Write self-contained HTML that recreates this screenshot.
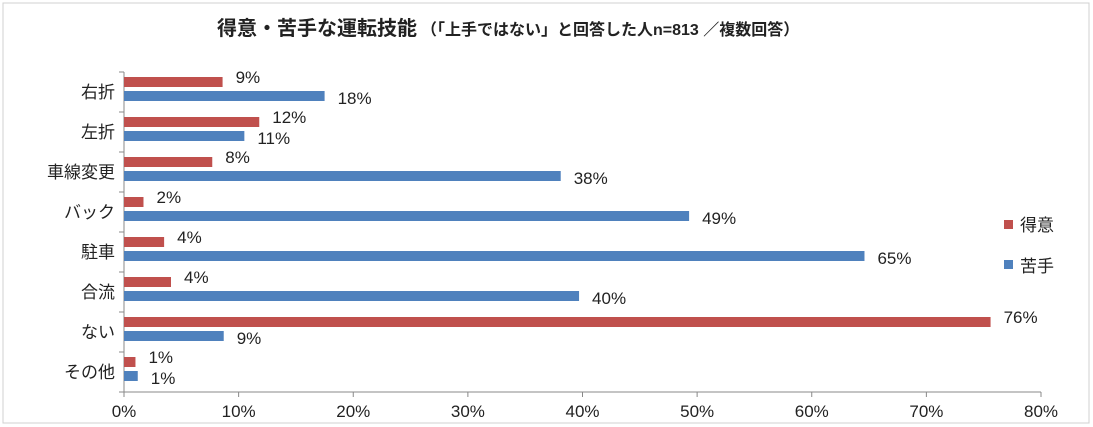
<!DOCTYPE html>
<html><head><meta charset="utf-8"><style>
body{margin:0;background:#fff;}
svg{display:block;font-family:"Liberation Sans","Noto Sans CJK JP",sans-serif;}
</style></head><body>
<svg id="chart" width="1093" height="427">
<rect x="3" y="3" width="1086" height="420" fill="#fff" stroke="#d0d0d0"/>
<text x="217" y="35" font-size="20" font-weight="bold" fill="#222">得意・苦手な運転技能<tspan font-size="16" dx="4">（「上手ではない」と回答した人n=813 ／複数回答）</tspan></text>
<g id="grid"></g><g id="bars"></g><g id="labels"></g>
<rect x="1004" y="220" width="9" height="9" fill="#c0504d"/>
<text x="1020" y="231" font-size="17" fill="#222">得意</text>
<rect x="1004" y="260" width="9" height="9" fill="#4f81bd"/>
<text x="1020" y="272" font-size="17" fill="#222">苦手</text>
</svg>
<script>
const categories=["右折","左折","車線変更","バック","駐車","合流","ない","その他"];
const tokuiValues=[8.6,11.8,7.7,1.7,3.5,4.1,75.6,1.0];
const nigateValues=[17.5,10.5,38.1,49.3,64.6,39.7,8.7,1.2];
const tokuiLabels=["9%","12%","8%","2%","4%","4%","76%","1%"];
const nigateLabels=["18%","11%","38%","49%","65%","40%","9%","1%"];
const xTicks=[0,10,20,30,40,50,60,70,80];
const NS="http://www.w3.org/2000/svg";
const x0=124,x1=1041,yTop=72,rowH=40;
const xs=v=>x0+(v/80)*(x1-x0);
const ys=i=>yTop+i*rowH;
function mk(tag,attrs,parent,txt){const e=document.createElementNS(NS,tag);for(const k in attrs)e.setAttribute(k,attrs[k]);if(txt!=null)e.textContent=txt;document.getElementById(parent).appendChild(e);return e;}
const yBot=ys(categories.length);
let e=mk("line",{x1:x0,y1:yTop,x2:x0,y2:yBot,stroke:"#888"},"grid");


e=mk("line",{x1:x0,y1:yBot,x2:x1,y2:yBot,stroke:"#888"},"grid");


xTicks.forEach(t=>{
 const x=xs(t);
 let l=mk("line",{x1:x,y1:yBot,x2:x,y2:yBot+5,stroke:"#888"},"grid");
 
 
 let tx=mk("text",{x:x,y:yBot+25,"font-size":17,"text-anchor":"middle",fill:"#222"},"labels",t+"%");
 
 
});
for(let i=0;i<=categories.length;i++){
 let l=mk("line",{x1:x0-5,y1:ys(i),x2:x0,y2:ys(i),stroke:"#888"},"grid");
 
 
}
categories.forEach((c,i)=>{
 const y=ys(i);
 let t=mk("text",{x:x0-9,y:y+26,"font-size":17,"text-anchor":"end",fill:"#222"},"labels",c);
 
 
 let r=mk("rect",{x:x0,y:y+5,width:xs(tokuiValues[i])-x0,height:10,fill:"#c0504d"},"bars");
 
 
 let b=mk("rect",{x:x0,y:y+19,width:xs(nigateValues[i])-x0,height:10,fill:"#4f81bd"},"bars");
 
 
 let lt=mk("text",{x:xs(tokuiValues[i])+13,y:y+11,"font-size":17,fill:"#222"},"labels",tokuiLabels[i]);
 
 
 let ln=mk("text",{x:xs(nigateValues[i])+13,y:y+32,"font-size":17,fill:"#222"},"labels",nigateLabels[i]);
 
 
});
</script>
</body></html>
